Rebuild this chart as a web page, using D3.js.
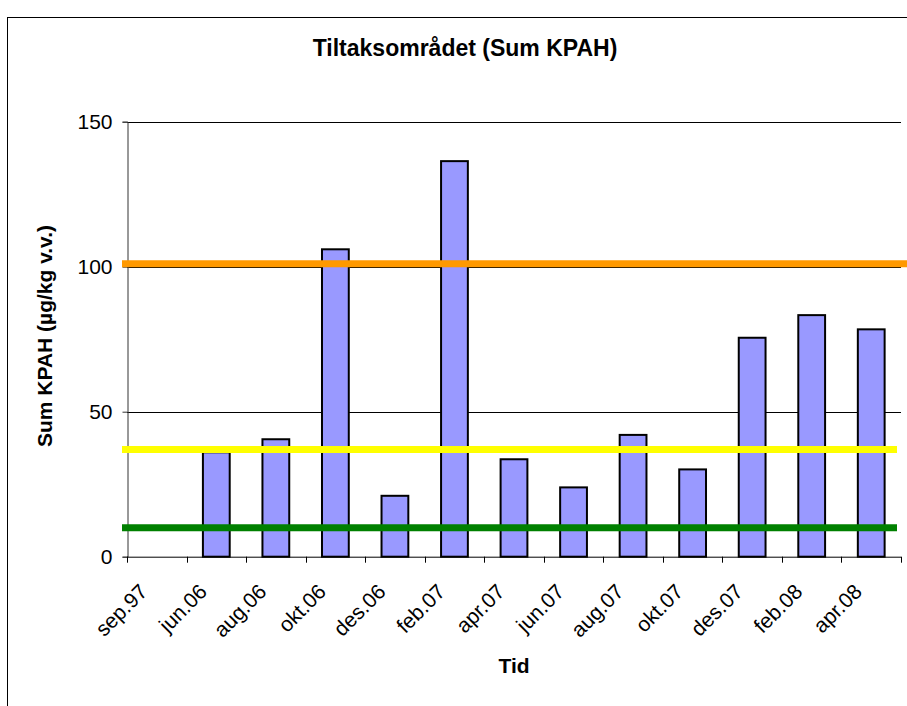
<!DOCTYPE html>
<html>
<head>
<meta charset="utf-8">
<script src="https://cdn.jsdelivr.net/npm/d3@7"></script>
<style>
  body { margin: 0; background: #fff; }
  svg { display: block; font-family: "Liberation Sans", Arial, sans-serif; }
</style>
</head>
<body>
<svg id="chart" width="907" height="706"></svg>
<script>
// data
var categories = ["sep.97", "jun.06", "aug.06", "okt.06", "des.06", "feb.07", "apr.07",
                  "jun.07", "aug.07", "okt.07", "des.07", "feb.08", "apr.08"]
var sumKPAH = [null, 36, 40.5, 106, 21, 136.4, 33.6, 23.9, 42, 30.1, 75.5, 83.3, 78.4]
var yTicks = [0, 50, 100, 150]
// class limits drawn as thick lines
var limitValues = [101, 37, 10]
var limitColors = ["#ff9900", "#ffff00", "#008000"]

var svg = d3.select('#chart')
var W = 907, H = 706
var plotLeft = 127, plotRight = 901, plotTop = 121.7, plotBottom = 556.7

// white background + outer frame (runs off the right/bottom edge)
svg.append("rect").attr("width", W).attr("height", H).attr("fill", "white")
svg.append("rect")
  .attr("x", 7.5).attr("y", 17.5).attr("width", W + 10).attr("height", H + 10)
  .attr("fill", "none").attr("stroke", "#000").attr("stroke-width", 1)

var x = d3.scaleBand().domain(categories).range([plotLeft, plotRight]).padding(0)
var y = d3.scaleLinear().domain([0, 150]).range([plotBottom, plotTop])

// title
svg.append("text")
  .attr("x", 465).attr("y", 56)
  .attr("text-anchor", "middle")
  .attr("font-size", 23).attr("font-weight", "bold")
  .text("Tiltaksområdet (Sum KPAH)")

// gridlines
svg.append("g").selectAll("line")
  .data(yTicks.filter(function(t){ return t > 0 }))
  .enter().append("line")
  .attr("x1", plotLeft).attr("x2", plotRight)
  .attr("y1", function(d){ return Math.round(y(d)) + 0.5 })
  .attr("y2", function(d){ return Math.round(y(d)) + 0.5 })
  .attr("stroke", "#000").attr("stroke-width", 1)

// bars
var barW = x.bandwidth() * 0.45
svg.append("g").selectAll("rect")
  .data(categories.map(function(c, i){ return { label: c, value: sumKPAH[i] } })
    .filter(function(d){ return d.value != null }))
  .enter().append("rect")
  .attr("x", function(d){ return x(d.label) + (x.bandwidth() - barW) / 2 })
  .attr("y", function(d){ return y(d.value) })
  .attr("width", barW)
  .attr("height", function(d){ return y(0) - y(d.value) })
  .attr("fill", "#9999ff").attr("stroke", "#000").attr("stroke-width", 2)

// y axis
var yAxis = svg.append("g")
  .attr("transform", "translate(" + (plotLeft + 0.5) + ",0)")
  .call(d3.axisLeft(y).tickValues(yTicks).tickSize(5).tickPadding(10))
yAxis.select(".domain").attr("stroke", "#333")
yAxis.selectAll(".tick line").attr("stroke", "#333")
yAxis.selectAll("text").attr("font-size", 21).attr("fill", "#000")
  .attr("font-family", "Liberation Sans, Arial, sans-serif")

// x axis with ticks at category boundaries
svg.append("line")
  .attr("x1", plotLeft).attr("x2", plotRight)
  .attr("y1", plotBottom + 0.5).attr("y2", plotBottom + 0.5)
  .attr("stroke", "#000")
var bounds = categories.map(function(c){ return x(c) }).concat([plotRight])
svg.append("g").selectAll("line")
  .data(bounds).enter().append("line")
  .attr("x1", function(d){ return Math.round(d) + 0.5 })
  .attr("x2", function(d){ return Math.round(d) + 0.5 })
  .attr("y1", plotBottom).attr("y2", plotBottom + 6)
  .attr("stroke", "#000")

svg.append("g").selectAll("text")
  .data(categories).enter().append("text")
  .attr("transform", function(d){
    return "translate(" + (x(d) + x.bandwidth() / 2 - 8) + "," + 593 + ") rotate(-45)"
  })
  .attr("text-anchor", "end")
  .attr("font-size", 21)
  .text(function(d){ return d })

// limit lines on top of the bars
svg.append("g").selectAll("line")
  .data(limitValues).enter().append("line")
  .attr("x1", plotLeft - 5)
  .attr("x2", function(d, i){ return i === 0 ? W : plotRight - 4 })
  .attr("y1", function(d){ return y(d) })
  .attr("y2", function(d){ return y(d) })
  .attr("stroke", function(d, i){ return limitColors[i] })
  .attr("stroke-width", 7)

// axis titles
svg.append("text")
  .attr("x", 514).attr("y", 673)
  .attr("text-anchor", "middle")
  .attr("font-size", 21).attr("font-weight", "bold")
  .text("Tid")

svg.append("text")
  .attr("transform", "translate(52," + 336 + ") rotate(-90)")
  .attr("text-anchor", "middle")
  .attr("font-size", 21).attr("font-weight", "bold")
  .text("Sum KPAH (µg/kg v.v.)")
</script>
</body>
</html>
